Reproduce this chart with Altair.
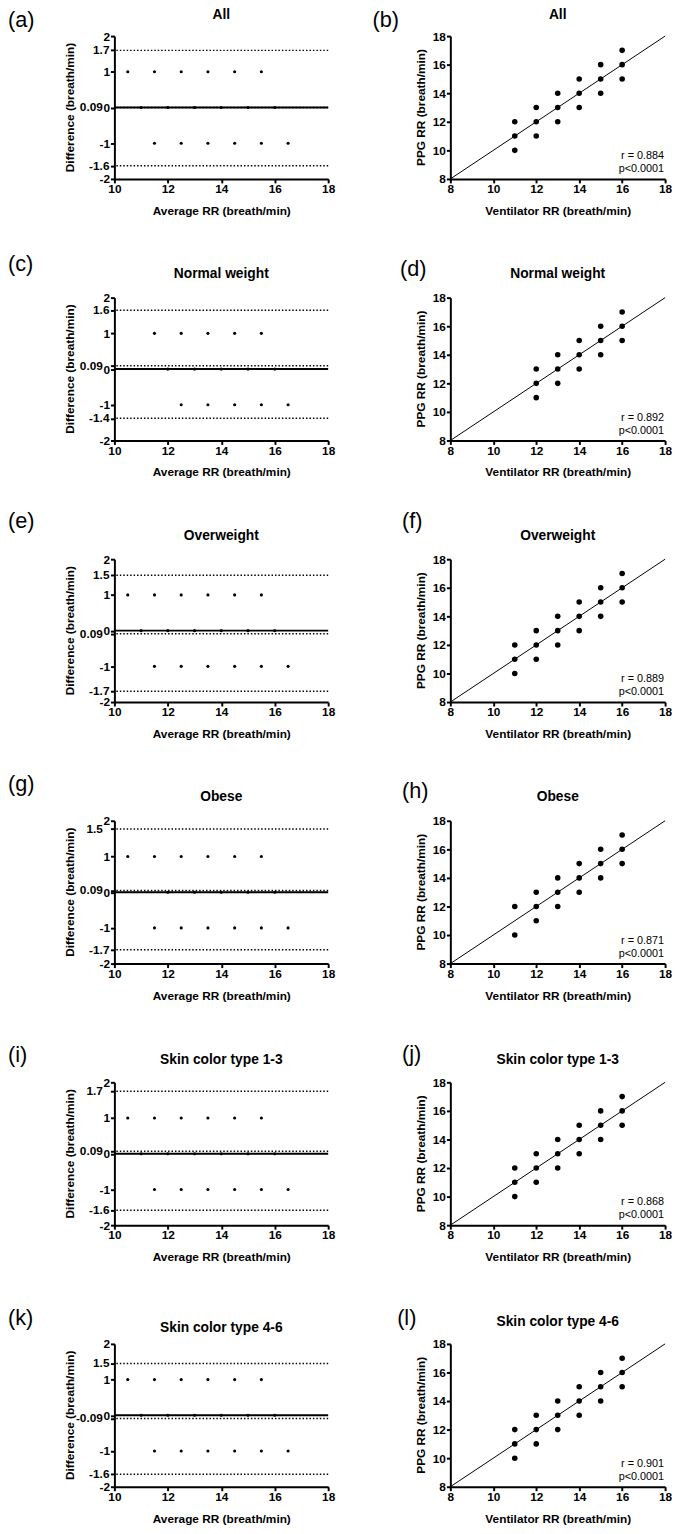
import altair as alt
import pandas as pd

FONT = "Liberation Sans"

# ---------------- data ----------------
letters_left = ["(a)", "(c)", "(e)", "(g)", "(i)", "(k)"]
letters_right = ["(b)", "(d)", "(f)", "(h)", "(j)", "(l)"]
group_titles = ["All", "Normal weight", "Overweight", "Obese",
                "Skin color type 1-3", "Skin color type 4-6"]

vent_all = [11, 11, 11, 12, 12, 12, 13, 13, 13, 14, 14, 14, 15, 15, 15, 16, 16, 16]
ppg_all = [12, 11, 10, 13, 12, 11, 14, 13, 12, 15, 14, 13, 16, 15, 14, 17, 16, 15]

vent_normal = [12, 12, 12, 13, 13, 13, 14, 14, 14, 15, 15, 15, 16, 16, 16]
ppg_normal = [13, 12, 11, 14, 13, 12, 15, 14, 13, 16, 15, 14, 17, 16, 15]

vent_over = [11, 11, 11, 12, 12, 12, 13, 13, 13, 14, 14, 14, 15, 15, 15, 16, 16, 16]
ppg_over = [12, 11, 10, 13, 12, 11, 14, 13, 12, 15, 14, 13, 16, 15, 14, 17, 16, 15]

vent_obese = [11, 11, 12, 12, 12, 13, 13, 13, 14, 14, 14, 15, 15, 15, 16, 16, 16]
ppg_obese = [12, 10, 13, 12, 11, 14, 13, 12, 15, 14, 13, 16, 15, 14, 17, 16, 15]

vent_skin13 = [11, 11, 11, 12, 12, 12, 13, 13, 13, 14, 14, 14, 15, 15, 15, 16, 16, 16]
ppg_skin13 = [12, 11, 10, 13, 12, 11, 14, 13, 12, 15, 14, 13, 16, 15, 14, 17, 16, 15]

vent_skin46 = [11, 11, 11, 12, 12, 12, 13, 13, 13, 14, 14, 14, 15, 15, 15, 16, 16, 16]
ppg_skin46 = [12, 11, 10, 13, 12, 11, 14, 13, 12, 15, 14, 13, 16, 15, 14, 17, 16, 15]

vents = [vent_all, vent_normal, vent_over, vent_obese, vent_skin13, vent_skin46]
ppgs = [ppg_all, ppg_normal, ppg_over, ppg_obese, ppg_skin13, ppg_skin46]

r_text = ["r = 0.884", "r = 0.892", "r = 0.889", "r = 0.871", "r = 0.868", "r = 0.901"]
p_text = ["p<0.0001", "p<0.0001", "p<0.0001", "p<0.0001", "p<0.0001", "p<0.0001"]

# Bland-Altman reference lines (position as drawn, label as printed)
bias_y = [0.0, 0.09, -0.09, 0.05, 0.07, -0.09]
bias_text = ["0.09", "0.09", "0.09", "0.09", "0.09", "-0.09"]
hi_y = [1.6, 1.65, 1.55, 1.77, 1.75, 1.45]
hi_text = ["1.7", "1.6", "1.5", "1.5", "1.7", "1.5"]
lo_y = [-1.63, -1.38, -1.70, -1.61, -1.58, -1.65]
lo_text = ["-1.6", "-1.4", "-1.7", "-1.7", "-1.6", "-1.6"]

ba_x_ticks = [10, 12, 14, 16, 18]
ba_y_ticks = [-2, -1, 0, 1, 2]
sc_ticks = [8, 10, 12, 14, 16, 18]
identity = [8, 18]

# ---------------- layout ----------------
W_L, W_R, H = 217, 218, 145
TICK, LPAD = 4, 1
letter_dx_left = -108
letter_dx_right = [-79, -51, -49, -49, -49, -54]
letter_dy_left = [-16, -34, -39, -37, -27.5, -26]
letter_dy_right = [-16, -29, -39, -30, -29, -26]
title_dy_left = [-21, -24, -24, -24, -23, -16]
title_dy_right = [-21, -24, -24, -24, -23, -22]


def text_layer(txt, x, y, size=12, weight="bold", align="center", angle=0):
    kw = dict(font=FONT, fontSize=size, fontWeight=weight, color="black",
              align=align, baseline="middle")
    if angle:
        kw["angle"] = angle
    return alt.Chart(pd.DataFrame({"t": [txt]})).mark_text(**kw).encode(
        x=alt.value(x), y=alt.value(y), text="t:N")


def label_width(n):
    s = str(n)
    return sum(4.0 if c == "-" else 6.7 for c in s)


def ba_panel(i):
    df = pd.DataFrame({"vent": vents[i], "ppg": ppgs[i]})
    xs = alt.Scale(domain=[10, 18], nice=False, zero=False)
    ys = alt.Scale(domain=[-2, 2], nice=False)
    yvals = ba_y_ticks + [hi_y[i], bias_y[i], lo_y[i]]
    xa = alt.Axis(values=ba_x_ticks, title="Average RR (breath/min)", labelFlush=False)
    ya = alt.Axis(values=yvals, title=None, labelOverlap=False,
                  labelExpr="abs(datum.value - round(datum.value)) < 0.001 ? toString(datum.value) : ''")

    zero = alt.Chart(pd.DataFrame({"y": [0]})).mark_rule(
        color="black", strokeWidth=2).encode(
        y=alt.Y("y:Q", scale=ys, axis=ya))
    ref = alt.Chart(pd.DataFrame({"y": [hi_y[i], bias_y[i], lo_y[i]]})).mark_rule(
        color="black", strokeWidth=1.5, strokeDash=[1.5, 2]).encode(
        y=alt.Y("y:Q", scale=ys, axis=ya))
    pts = alt.Chart(df).transform_calculate(
        x="(datum.vent + datum.ppg) / 2",
        y="datum.vent - datum.ppg",
    ).mark_circle(size=10, color="black", opacity=1).encode(
        x=alt.X("x:Q", scale=xs, axis=xa),
        y=alt.Y("y:Q", scale=ys, axis=ya),
    )
    layers = [zero, ref, pts]
    px_per_unit = H / 4.0
    for yv, txt in [(hi_y[i], hi_text[i]), (bias_y[i], bias_text[i]), (lo_y[i], lo_text[i])]:
        n = int(round(yv))
        shift = label_width(n) if abs(yv - n) * px_per_unit < 10 else 0
        layers.append(
            alt.Chart(pd.DataFrame({"y": [yv], "t": [txt]})).mark_text(
                font=FONT, fontSize=12, fontWeight="bold", color="black",
                align="right", baseline="middle").encode(
                x=alt.value(-(TICK + LPAD) - shift),
                y=alt.Y("y:Q", scale=ys, axis=ya),
                text="t:N"))
    layers.append(text_layer("Difference (breath/min)", -44.7, H / 2, angle=270))
    layers.append(text_layer(group_titles[i], W_L / 2, title_dy_left[i], size=14))
    layers.append(text_layer(letters_left[i], letter_dx_left, letter_dy_left[i],
                             size=22, weight="normal", align="left"))
    return alt.layer(*layers).properties(width=W_L, height=H)


def sc_panel(i):
    df = pd.DataFrame({"x": vents[i], "y": ppgs[i]})
    s = alt.Scale(domain=[8, 18], nice=False, zero=False)
    xa = alt.Axis(values=sc_ticks, title="Ventilator RR (breath/min)", labelFlush=False)
    ya = alt.Axis(values=sc_ticks, title=None)
    line = alt.Chart(pd.DataFrame({"x": identity, "y": identity})).mark_line(
        color="black", strokeWidth=1).encode(
        x=alt.X("x:Q", scale=s, axis=xa),
        y=alt.Y("y:Q", scale=s, axis=ya))
    pts = alt.Chart(df).mark_circle(size=32, color="black", opacity=1).encode(
        x=alt.X("x:Q", scale=s, axis=xa),
        y=alt.Y("y:Q", scale=s, axis=ya),
    )
    layers = [line, pts,
              text_layer(r_text[i], W_R - 1, 122, size=11, weight="normal", align="right"),
              text_layer(p_text[i], W_R - 1, 135, size=11, weight="normal", align="right"),
              text_layer("PPG RR (breath/min)", -30, H / 2, angle=270),
              text_layer(group_titles[i], W_R / 2, title_dy_right[i], size=14),
              text_layer(letters_right[i], letter_dx_right[i], letter_dy_right[i],
                         size=22, weight="normal", align="left")]
    return alt.layer(*layers).properties(width=W_R, height=H)


panels = []
for i in range(6):
    panels.append(ba_panel(i))
    panels.append(sc_panel(i))

chart = alt.concat(
    *panels, columns=2, bounds="flush", spacing={"row": 120.5, "column": 124}
).properties(
    padding={"top": -11, "left": 0, "right": 0, "bottom": 0}
).configure_axis(
    domainColor="black", domainWidth=2, tickColor="black", tickWidth=2,
    tickSize=TICK, labelPadding=LPAD, labelFont=FONT, labelFontSize=12,
    labelFontWeight="bold", labelColor="black", titleFont=FONT,
    titleFontSize=12, titleFontWeight="bold", titleColor="black",
    titlePadding=11, grid=False,
).configure_view(stroke=None)

chart.save("out.html", embed_options={"renderer": "svg", "actions": False})
